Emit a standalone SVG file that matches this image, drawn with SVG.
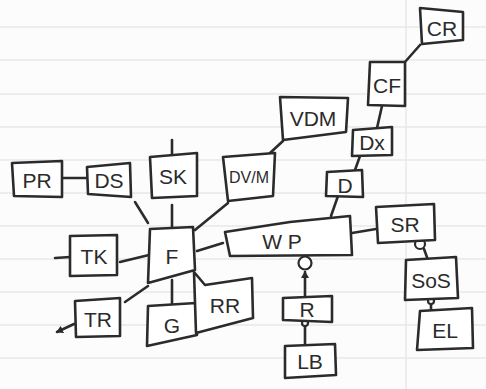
<svg xmlns="http://www.w3.org/2000/svg" width="486" height="389" viewBox="0 0 486 389">
<defs>
<style>
.bg{fill:#fcfcfc}
.rule{stroke:#e8e8e8;stroke-width:1.5;fill:none}
.box{fill:#ffffff;stroke:#2b2b2b;stroke-width:2.6;stroke-linejoin:round}
.ln{stroke:#2b2b2b;stroke-width:2.6;fill:none;stroke-linecap:round}
.lbl{font-family:"Liberation Sans",Arial,sans-serif;font-size:21px;fill:#2b2b2b;text-anchor:middle;dominant-baseline:central}
.sm{font-size:16px}
.dot{fill:#ffffff;stroke:#2b2b2b;stroke-width:2.2}
</style>
<marker id="ah" markerWidth="8" markerHeight="8" refX="6" refY="4" orient="auto" markerUnits="userSpaceOnUse">
<path d="M0,0 L7,4 L0,8 Z" fill="#2b2b2b"/>
</marker>
</defs>
<rect class="bg" x="0" y="0" width="486" height="389"/>
<g id="paper">
<path class="rule" d="M0,27H486M0,60H486M0,94H486M0,127H486M0,160H486M0,193H486M0,226H486M0,259H486M0,292H486M0,325H486M0,358H486M406,0V389"/>
</g>
<g id="connectors">
<line class="ln" x1="62" y1="178" x2="87" y2="178"/>
<line class="ln" x1="172" y1="140" x2="172" y2="156"/>
<line class="ln" x1="135" y1="202" x2="148" y2="223"/>
<line class="ln" x1="172" y1="205" x2="172" y2="227"/>
<line class="ln" x1="228" y1="203" x2="195" y2="230"/>
<line class="ln" x1="270" y1="153" x2="283" y2="141"/>
<line class="ln" x1="55" y1="258" x2="70" y2="257"/>
<line class="ln" x1="120" y1="262" x2="149" y2="255"/>
<line class="ln" x1="74" y1="324" x2="57" y2="332" marker-end="url(#ah)"/>
<line class="ln" x1="125" y1="302" x2="148" y2="286"/>
<line class="ln" x1="172" y1="280" x2="172" y2="305"/>
<line class="ln" x1="197" y1="251" x2="223" y2="243"/>
<line class="ln" x1="331" y1="216" x2="338" y2="196"/>
<line class="ln" x1="355" y1="170" x2="360" y2="156"/>
<line class="ln" x1="377" y1="128" x2="382" y2="106"/>
<line class="ln" x1="405" y1="62" x2="420" y2="45"/>
<line class="ln" x1="352" y1="233" x2="376" y2="229"/>
<line class="ln" x1="305" y1="297" x2="305" y2="272" marker-end="url(#ah)"/>
<line class="ln" x1="305" y1="326" x2="305" y2="345"/>
<line class="ln" x1="424" y1="249" x2="428" y2="260"/>
<line class="ln" x1="431" y1="304" x2="431" y2="311"/>
<circle class="dot" cx="305" cy="263" r="6.5"/>
<circle class="dot" cx="305" cy="323" r="3"/>
<circle class="dot" cx="420" cy="244" r="5"/>
<circle class="dot" cx="431" cy="301" r="3"/>
</g>
<g id="PR"><polygon class="box" points="12,163 62,161 62,197 14,196"/><text class="lbl" x="37" y="180">PR</text></g>
<g id="DS"><polygon class="box" points="87,167 130,163 131,197 88,194"/><text class="lbl" x="109" y="180">DS</text></g>
<g id="SK"><polygon class="box" points="150,157 197,153 197,196 152,198"/><text class="lbl" x="173" y="176">SK</text></g>
<g id="DVM"><polygon class="box" points="223,157 275,153 273,196 228,201"/><text class="lbl sm" x="249" y="177">DV/M</text></g>
<g id="VDM"><polygon class="box" points="280,97 348,98 346,132 283,140"/><text class="lbl" x="313" y="118">VDM</text></g>
<g id="CR"><polygon class="box" points="420,8 463,12 463,40 422,44"/><text class="lbl" x="442" y="28">CR</text></g>
<g id="CF"><polygon class="box" points="370,62 405,62 405,106 368,105"/><text class="lbl" x="387" y="85">CF</text></g>
<g id="Dx"><polygon class="box" points="353,130 392,127 392,155 352,156"/><text class="lbl" x="372" y="142">Dx</text></g>
<g id="D"><polygon class="box" points="327,172 362,170 363,197 326,196"/><text class="lbl" x="345" y="185">D</text></g>
<g id="SR"><polygon class="box" points="376,207 434,204 435,240 378,243"/><text class="lbl" x="405" y="224">SR</text></g>
<g id="SoS"><polygon class="box" points="406,260 456,257 458,298 405,300"/><text class="lbl" x="431" y="280">SoS</text></g>
<g id="EL"><polygon class="box" points="420,311 472,308 473,348 417,350"/><text class="lbl" x="445" y="330">EL</text></g>
<g id="WP"><polygon class="box" points="225,232 290,222 350,216 352,255 230,256"/><text class="lbl" x="282" y="241">W  P</text></g>
<g id="F"><polygon class="box" points="150,229 193,227 195,270 148,283"/><text class="lbl" x="172" y="256">F</text></g>
<g id="TK"><polygon class="box" points="70,236 117,235 117,275 70,276"/><text class="lbl" x="94" y="256">TK</text></g>
<g id="TR"><polygon class="box" points="75,301 120,298 120,336 76,337"/><text class="lbl" x="98" y="319">TR</text></g>
<g id="G"><polygon class="box" points="148,306 196,303 197,335 147,346"/><text class="lbl" x="172" y="325">G</text></g>
<g id="RR"><polygon class="box" points="194,272 205,285 252,278 253,318 196,333"/><text class="lbl" x="225" y="305">RR</text></g>
<g id="R"><polygon class="box" points="283,298 332,296 332,322 283,320"/><text class="lbl" x="307" y="309">R</text></g>
<g id="LB"><polygon class="box" points="285,346 335,344 336,375 285,378"/><text class="lbl" x="310" y="361">LB</text></g>
</svg>
